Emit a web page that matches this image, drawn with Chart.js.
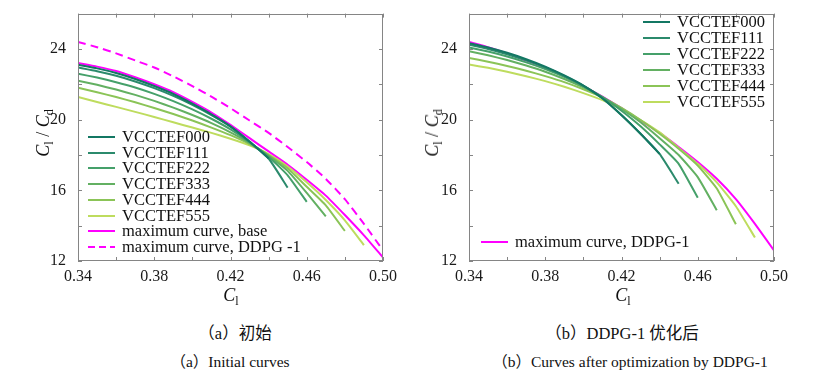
<!DOCTYPE html>
<html>
<head>
<meta charset="utf-8">
<script src="https://cdn.jsdelivr.net/npm/chart.js@4.4.0/dist/chart.umd.min.js"></script>
<style>
  body { margin: 0; background: #fff; font-family: "Liberation Serif", "Times New Roman", serif; color: #111; }
  #page { position: relative; width: 838px; height: 375px; overflow: hidden; }
  .box { position: absolute; top: 0; }
  .lg { position: absolute; font-size: 16.5px; line-height: 16px; white-space: nowrap; }
  .ytitle { position: absolute; transform: translate(-50%, -50%) rotate(-90deg); font-size: 18px; white-space: nowrap; }
  .xtitle { position: absolute; transform: translate(-50%, -50%); font-size: 18px; white-space: nowrap; }
  .cap { position: absolute; transform: translate(-50%, -50%); white-space: nowrap;
         font-family: "Liberation Serif", "Times New Roman", "Noto Sans CJK SC", serif; }
  .cap.zh { font-size: 16.5px; }
  .cap.en { font-size: 15.5px; }
  sub { font-size: 12px; vertical-align: -4px; font-style: normal; }
</style>
</head>
<body>
<div id="page">
  <canvas id="chartA" class="box" width="420" height="310" style="left:0"></canvas>
  <canvas id="chartB" class="box" width="418" height="310" style="left:420px"></canvas>

  <div class="ytitle" style="left:45px; top:133px"><i>C</i><sub>l</sub> / <i>C</i><sub>d</sub></div>
  <div class="ytitle" style="left:434px; top:133px"><i>C</i><sub>l</sub> / <i>C</i><sub>d</sub></div>
  <div class="xtitle" style="left:231px; top:297px"><i>C</i><sub>l</sub></div>
  <div class="xtitle" style="left:623px; top:297px"><i>C</i><sub>l</sub></div>

  <div class="cap zh" style="left:235px; top:332px">（a）初始</div>
  <div class="cap en" style="left:230px; top:360px">（a）Initial curves</div>
  <div class="cap zh" style="left:622px; top:332px">（b）DDPG-1 优化后</div>
  <div class="cap en" style="left:630px; top:360px">（b）Curves after optimization by DDPG-1</div>
</div>

<script>
// lift coefficient grid, step 0.01
const clValues = [0.34, 0.35, 0.36, 0.37, 0.38, 0.39, 0.40, 0.41, 0.42,
                  0.43, 0.44, 0.45, 0.46, 0.47, 0.48, 0.49, 0.50];

const xTickLabels = ['0.34', '0.38', '0.42', '0.46', '0.50'];
const yTickLabels = ['12', '16', '20', '24'];

const seriesNames = ['VCCTEF000', 'VCCTEF111', 'VCCTEF222', 'VCCTEF333', 'VCCTEF444', 'VCCTEF555'];
const seriesColors = ['#137763', '#2b8a6c', '#45a06a', '#63b062', '#8bc457', '#bedc5e'];

// (a) initial curves
const initial000 = [23.10, 22.90, 22.64, 22.30, 21.90, 21.45, 20.90, 20.30, 19.62, 18.76, 17.80];
const initial111 = [22.95, 22.74, 22.48, 22.16, 21.78, 21.34, 20.83, 20.25, 19.60, 18.75, 17.80, 16.15];
const initial222 = [22.60, 22.38, 22.12, 21.82, 21.46, 21.05, 20.58, 20.05, 19.45, 18.72, 17.90, 16.85, 15.35];
const initial333 = [22.20, 21.97, 21.70, 21.40, 21.06, 20.68, 20.26, 19.80, 19.28, 18.68, 17.95, 17.10, 15.85, 14.53];
const initial444 = [21.80, 21.55, 21.28, 20.98, 20.66, 20.32, 19.95, 19.55, 19.12, 18.62, 18.00, 17.25, 16.20, 15.15, 13.70];
const initial555 = [21.28, 21.00, 20.72, 20.44, 20.15, 19.85, 19.55, 19.25, 18.92, 18.55, 18.05, 17.35, 16.45, 15.45, 14.30, 12.90];
const maxBase    = [23.20, 23.00, 22.75, 22.40, 22.00, 21.55, 21.00, 20.40, 19.70, 18.95, 18.20, 17.45, 16.60, 15.70, 14.60, 13.45, 12.20];

// (b) after DDPG-1
const opt000 = [24.33, 24.08, 23.78, 23.42, 23.00, 22.50, 21.93, 21.21, 20.26, 19.20, 18.06];
const opt111 = [24.24, 24.00, 23.70, 23.35, 22.95, 22.48, 21.92, 21.20, 20.25, 19.20, 18.06, 16.37];
const opt222 = [24.09, 23.85, 23.57, 23.24, 22.86, 22.42, 21.90, 21.28, 20.50, 19.62, 18.60, 17.50, 15.58];
const opt333 = [23.87, 23.64, 23.37, 23.06, 22.71, 22.30, 21.83, 21.28, 20.60, 19.85, 18.95, 18.00, 16.75, 14.87];
const opt444 = [23.49, 23.28, 23.04, 22.77, 22.46, 22.12, 21.72, 21.26, 20.66, 19.98, 19.20, 18.35, 17.40, 16.10, 14.08];
const opt555 = [23.12, 22.93, 22.71, 22.46, 22.18, 21.86, 21.50, 21.10, 20.58, 19.98, 19.28, 18.40, 17.50, 16.45, 15.10, 13.33];
const maxDDPG = [24.40, 24.10, 23.75, 23.35, 22.95, 22.45, 21.90, 21.30, 20.65, 19.95, 19.25, 18.45, 17.60, 16.65, 15.50, 14.10, 12.60];

const MAGENTA = '#ff00ff';
const FRAME = '#858585';

Chart.defaults.font.family = '"Liberation Serif", "Times New Roman", serif';
Chart.defaults.font.size = 16;
Chart.defaults.color = '#1a1a1a';

function pts(vals) {
    return vals.map((v, i) => ({ x: clValues[i], y: v }));
}

function greenSets(list) {
    return list.map((vals, i) => ({
        label: seriesNames[i],
        data: pts(vals),
        borderColor: seriesColors[i],
        borderWidth: 2,
        pointRadius: 0,
        tension: 0.15
    }));
}

// frame round the plot with inward ticks on all four sides
const frameTicks = {
    id: 'frameTicks',
    afterDatasetsDraw(chart) {
        const { ctx, chartArea: a, scales: { x, y } } = chart;
        ctx.save();
        ctx.strokeStyle = FRAME;
        ctx.lineWidth = 1;
        ctx.strokeRect(Math.round(a.left) + 0.5, Math.round(a.top) + 0.5,
                       Math.round(a.width) - 1, Math.round(a.height) - 1);
        ctx.beginPath();
        x.ticks.forEach(t => {
            const px = Math.round(x.getPixelForValue(t.value)) + 0.5;
            ctx.moveTo(px, a.bottom); ctx.lineTo(px, a.bottom - 4);
            ctx.moveTo(px, a.top); ctx.lineTo(px, a.top + 4);
        });
        y.ticks.forEach(t => {
            const py = Math.round(y.getPixelForValue(t.value)) + 0.5;
            ctx.moveTo(a.left, py); ctx.lineTo(a.left + 4, py);
            ctx.moveTo(a.right, py); ctx.lineTo(a.right - 4, py);
        });
        ctx.stroke();
        ctx.restore();
    }
};

function makeOptions(yWidth, pad) {
    return {
        responsive: false,
        animation: false,
        layout: { padding: pad },
        plugins: { legend: { display: false }, tooltip: { enabled: false } },
        scales: {
            x: {
                type: 'linear', min: 0.34, max: 0.50,
                grid: { display: false },
                border: { display: false },
                afterFit: s => { s.height = 49; },
                ticks: {
                    stepSize: 0.02, autoSkip: false, maxRotation: 0, padding: -2,
                    callback: v => xTickLabels.includes(v.toFixed(2)) ? v.toFixed(2) : ''
                }
            },
            y: {
                type: 'linear', min: 12, max: 26,
                grid: { display: false },
                border: { display: false },
                afterFit: s => { s.width = yWidth; },
                ticks: {
                    stepSize: 2, autoSkip: false, padding: 4,
                    callback: v => yTickLabels.includes(String(v)) ? String(v) : ''
                }
            }
        }
    };
}

// html legend
function drawLegend(chart, canvasLeft, idx, left, top, step) {
    const page = document.getElementById('page');
    idx.forEach((d, k) => {
        const ds = chart.data.datasets[d];
        const cy = top + k * step;
        const sw = document.createElement('div');
        sw.className = 'lg';
        sw.style.left = (canvasLeft + left) + 'px';
        sw.style.top = (cy - 1) + 'px';
        sw.style.width = '27px';
        sw.style.height = '2px';
        sw.style.background = ds.borderDash
            ? 'repeating-linear-gradient(to right, ' + ds.borderColor + ' 0 7px, transparent 7px 11px)'
            : ds.borderColor;
        page.appendChild(sw);
        const tx = document.createElement('div');
        tx.className = 'lg';
        tx.style.left = (canvasLeft + left + 34) + 'px';
        tx.style.top = (cy - 8) + 'px';
        tx.textContent = ds.label;
        page.appendChild(tx);
    });
}

const chartA = new Chart(document.getElementById('chartA'), {
    type: 'line',
    data: {
        datasets: greenSets([initial000, initial111, initial222, initial333, initial444, initial555]).concat([
            { label: 'maximum curve, base', data: pts(maxBase), borderColor: MAGENTA,
              borderWidth: 2, pointRadius: 0, tension: 0.15 },
            { label: 'maximum curve, DDPG -1', data: pts(maxDDPG), borderColor: MAGENTA,
              borderWidth: 2, borderDash: [8, 5], pointRadius: 0, tension: 0.15 }
        ])
    },
    options: makeOptions(78, { left: 0, right: 37, top: 13, bottom: 0 }),
    plugins: [frameTicks]
});

const chartB = new Chart(document.getElementById('chartB'), {
    type: 'line',
    data: {
        datasets: greenSets([opt000, opt111, opt222, opt333, opt444, opt555]).concat([
            { label: 'maximum curve, DDPG-1', data: pts(maxDDPG), borderColor: MAGENTA,
              borderWidth: 2, pointRadius: 0, tension: 0.15 }
        ])
    },
    options: makeOptions(49, { left: 0, right: 64, top: 12, bottom: 0 }),
    plugins: [frameTicks]
});

drawLegend(chartA, 0, [0, 1, 2, 3, 4, 5, 6, 7], 88, 137, 15.7);
drawLegend(chartB, 420, [0, 1, 2, 3, 4, 5], 223, 22.3, 15.9);
drawLegend(chartB, 420, [6], 61, 242, 0);
</script>
</body>
</html>
